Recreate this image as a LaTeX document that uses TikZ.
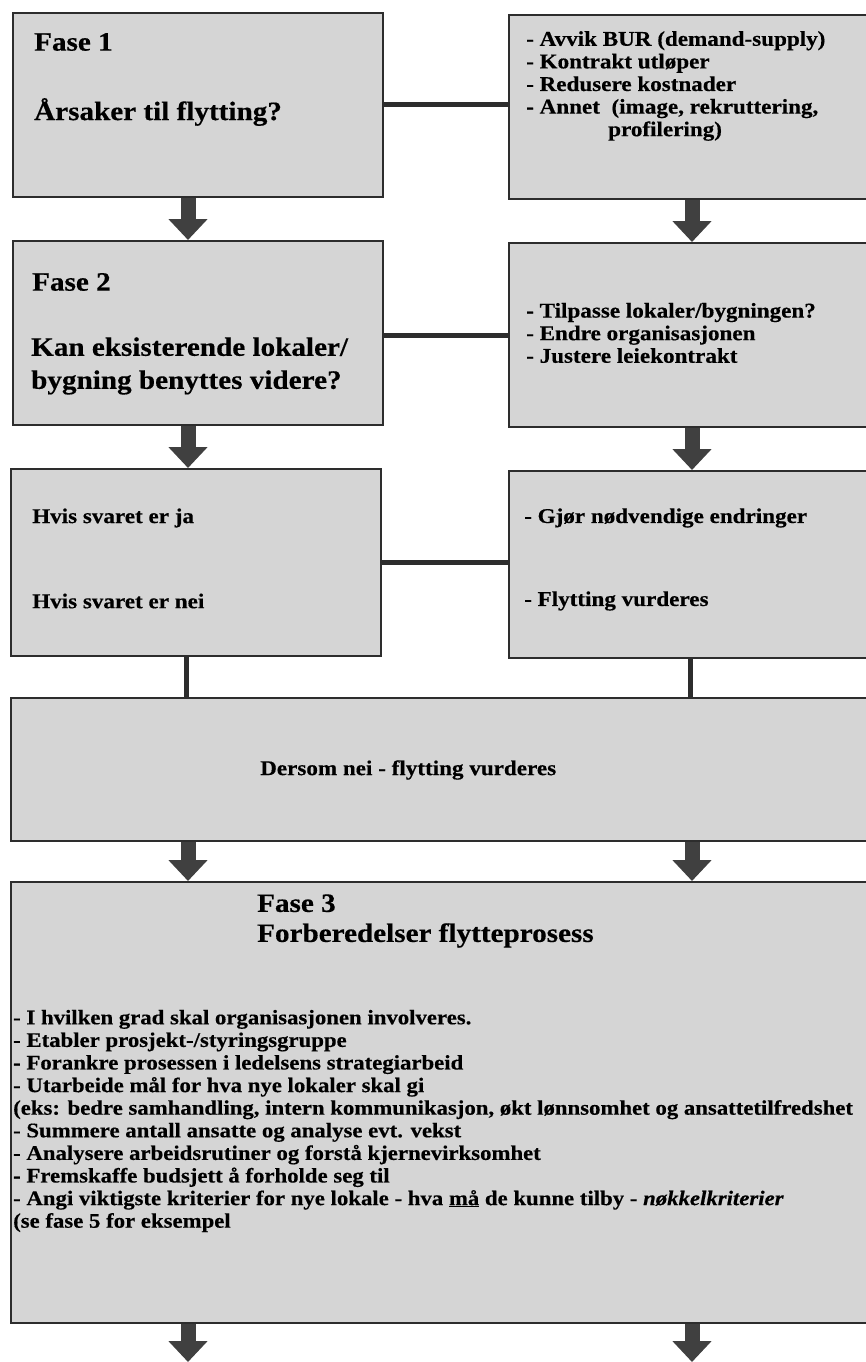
\documentclass[tikz,border=0pt]{standalone}
\usepackage{fontspec}
\setmainfont{Liberation Serif}[FakeStretch=1.1, BoldFeatures={FakeBold=0.4}, BoldItalicFeatures={FakeBold=0.4}]
\usetikzlibrary{arrows.meta}
\definecolor{boxgray}{RGB}{213,213,213}
\definecolor{edgegray}{RGB}{45,45,45}
\definecolor{arrowgray}{RGB}{64,64,64}
\tikzset{
  box/.style={draw=edgegray, line width=1.6pt, fill=boxgray, anchor=north west, inner sep=0pt},
  txt/.style={anchor=west, inner sep=0pt, align=left, font=\bfseries\fontsize{21}{22.6}\selectfont},
  head/.style={anchor=west, inner sep=0pt, align=left, font=\bfseries\fontsize{26.5}{29}\selectfont},
  big/.style={anchor=west, inner sep=0pt, align=left, font=\bfseries\fontsize{26.5}{33}\selectfont},
  blockarrow/.style={draw=arrowgray, line width=15pt, -{Triangle[width=38pt,length=21pt]}},
  link/.style={draw=edgegray, line width=5pt}
}
\begin{document}
\begin{tikzpicture}[x=1pt,y=-1pt]
\useasboundingbox (0,0) rectangle (866,1362);
\clip (0,0) rectangle (866,1362);
\fill[white] (0,0) rectangle (866,1362);
\coordinate (ax) at (188,0);
\coordinate (bx) at (692,0);
% row 1
\node[box, minimum width=370pt, minimum height=184pt] (b1) at (12,12) {};
\node[box, minimum width=362pt, minimum height=184pt] (b2) at (508,14) {};
% row 2
\node[box, minimum width=370pt, minimum height=184pt] (b3) at (12,240) {};
\node[box, minimum width=362pt, minimum height=184pt] (b4) at (508,242) {};
% row 3
\node[box, minimum width=370pt, minimum height=187pt] (b5) at (10,468) {};
\node[box, minimum width=362pt, minimum height=187pt] (b6) at (508,470) {};
% row 4
\node[box, minimum width=862pt, minimum height=143pt] (b7) at (10,697) {};
% row 5
\node[box, minimum width=862pt, minimum height=441pt] (b8) at (10,881) {};

% texts
\node[head] (t1a) at (34,42) {Fase 1};
\node[head] (t1b) at (34,112) {Årsaker til flytting?};
\node[txt] (t2) at (526,86) {- Avvik BUR (demand-supply)\\- Kontrakt utløper\\- Redusere kostnader\\- Annet\ \ (image, rekruttering,\\\hspace*{82pt}profilering)};
\node[head] (t3a) at (32,282) {Fase 2};
\node[big] (t3b) at (31,366) {Kan eksisterende lokaler/\\bygning benyttes videre?};
\node[txt] (t4) at (526,333) {- Tilpasse lokaler/bygningen?\\- Endre organisasjonen\\- Justere leiekontrakt};
\node[txt] (t5a) at (32,518) {Hvis svaret er ja};
\node[txt] (t5b) at (32,601) {Hvis svaret er nei};
\node[txt] (t6a) at (524,518) {- Gjør nødvendige endringer};
\node[txt] (t6b) at (524,601) {- Flytting vurderes};
\node[txt] (t7) at (260,770) {Dersom nei - flytting vurderes};
\node[head, font=\bfseries\fontsize{26.5}{30}\selectfont] (t8a) at (257,921) {Fase 3\\Forberedelser flytteprosess};
\node[txt, font=\bfseries\fontsize{20.7}{22.6}\selectfont] (t8b) at (13,1121) {- I hvilken grad skal organisasjonen involveres.\\- Etabler prosjekt-/styringsgruppe\\- Forankre prosessen i ledelsens strategiarbeid\\- Utarbeide mål for hva nye lokaler skal gi\\(eks: bedre samhandling, intern kommunikasjon, økt lønnsomhet og ansattetilfredshet\\- Summere antall ansatte og analyse evt. vekst\\- Analysere arbeidsrutiner og forstå kjernevirksomhet\\- Fremskaffe budsjett å forholde seg til\\- Angi viktigste kriterier for nye lokale - hva \underline{må} de kunne tilby - \textit{nøkkelkriterier}\\(se fase 5 for eksempel};

% connectors
\draw[link] (b1.east |- 0,105) -- (b2.west |- 0,105);
\draw[link] (b3.east |- 0,335) -- (b4.west |- 0,335);
\draw[link] (b5.east |- 0,562) -- (b6.west |- 0,562);
\draw[link] (b5.south -| 186,0) -- (b7.north -| 186,0);
\draw[link] (b6.south -| 690,0) -- (b7.north -| 690,0);

\draw[blockarrow] (b1.south -| ax) -- (b3.north -| ax);
\draw[blockarrow] (b2.south -| bx) -- (b4.north -| bx);
\draw[blockarrow] (b3.south -| ax) -- (b5.north -| ax);
\draw[blockarrow] (b4.south -| bx) -- (b6.north -| bx);
\draw[blockarrow] (b7.south -| ax) -- (b8.north -| ax);
\draw[blockarrow] (b7.south -| bx) -- (b8.north -| bx);
\coordinate (e1) at (188,1362);
\coordinate (e2) at (692,1362);
\draw[blockarrow] (b8.south -| ax) -- (e1);
\draw[blockarrow] (b8.south -| bx) -- (e2);
\end{tikzpicture}
\end{document}
